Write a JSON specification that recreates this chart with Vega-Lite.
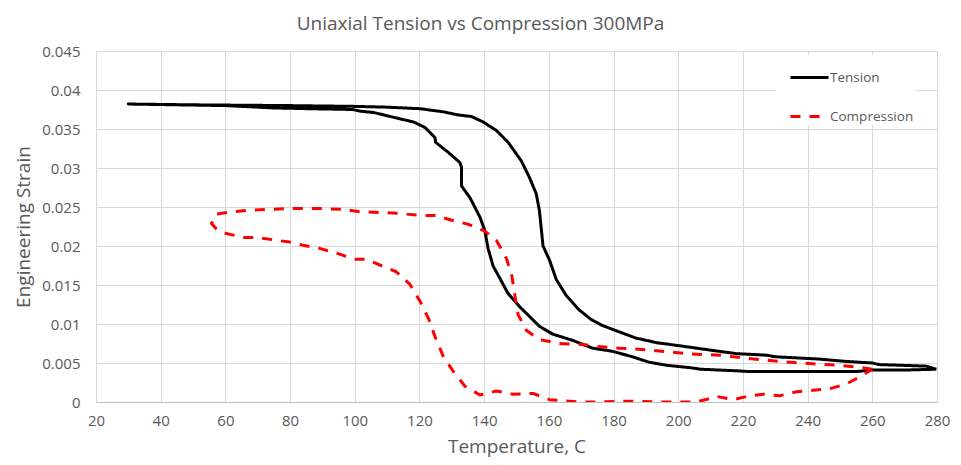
{
  "$schema": "https://vega.github.io/schema/vega-lite/v6.json",
  "description": "Uniaxial tension vs compression thermal cycles at 300MPa.",
  "autosize": "none",
  "width": 841,
  "height": 351,
  "padding": {"left": 96, "top": 51, "right": 24, "bottom": 63},
  "background": "white",
  "title": {
    "text": "Uniaxial Tension vs Compression 300MPa",
    "font": "Open Sans",
    "fontSize": 19,
    "fontWeight": "normal",
    "color": "#595959",
    "anchor": "middle",
    "baseline": "alphabetic",
    "offset": -5,
    "dx": -36
  },
  "data": {
    "values": [
      {"series": "Tension", "i": 1, "temp": 279.8, "strain": 0.0042},
      {"series": "Tension", "i": 2, "temp": 270, "strain": 0.0041},
      {"series": "Tension", "i": 3, "temp": 260, "strain": 0.0041},
      {"series": "Tension", "i": 4, "temp": 255, "strain": 0.0039},
      {"series": "Tension", "i": 5, "temp": 240, "strain": 0.0039},
      {"series": "Tension", "i": 6, "temp": 222, "strain": 0.0039},
      {"series": "Tension", "i": 7, "temp": 218, "strain": 0.004},
      {"series": "Tension", "i": 8, "temp": 207, "strain": 0.0042},
      {"series": "Tension", "i": 9, "temp": 203.7, "strain": 0.0044},
      {"series": "Tension", "i": 10, "temp": 196.5, "strain": 0.0047},
      {"series": "Tension", "i": 11, "temp": 191, "strain": 0.0051},
      {"series": "Tension", "i": 12, "temp": 185.8, "strain": 0.0058},
      {"series": "Tension", "i": 13, "temp": 179.7, "strain": 0.0065},
      {"series": "Tension", "i": 14, "temp": 173.5, "strain": 0.0069},
      {"series": "Tension", "i": 15, "temp": 167.4, "strain": 0.0079},
      {"series": "Tension", "i": 16, "temp": 161.2, "strain": 0.0087},
      {"series": "Tension", "i": 17, "temp": 157.1, "strain": 0.0097},
      {"series": "Tension", "i": 18, "temp": 151, "strain": 0.0122},
      {"series": "Tension", "i": 19, "temp": 147.4, "strain": 0.0139},
      {"series": "Tension", "i": 20, "temp": 144.8, "strain": 0.0159},
      {"series": "Tension", "i": 21, "temp": 142.8, "strain": 0.0174},
      {"series": "Tension", "i": 22, "temp": 141.2, "strain": 0.0197},
      {"series": "Tension", "i": 23, "temp": 140.2, "strain": 0.022},
      {"series": "Tension", "i": 24, "temp": 138.7, "strain": 0.0237},
      {"series": "Tension", "i": 25, "temp": 135.6, "strain": 0.0262},
      {"series": "Tension", "i": 26, "temp": 133, "strain": 0.0277},
      {"series": "Tension", "i": 27, "temp": 133, "strain": 0.0301},
      {"series": "Tension", "i": 28, "temp": 132.5, "strain": 0.0307},
      {"series": "Tension", "i": 29, "temp": 128.9, "strain": 0.032},
      {"series": "Tension", "i": 30, "temp": 125, "strain": 0.0333},
      {"series": "Tension", "i": 31, "temp": 124.8, "strain": 0.0339},
      {"series": "Tension", "i": 32, "temp": 121.7, "strain": 0.0352},
      {"series": "Tension", "i": 33, "temp": 118.2, "strain": 0.0359},
      {"series": "Tension", "i": 34, "temp": 114, "strain": 0.0363},
      {"series": "Tension", "i": 35, "temp": 110, "strain": 0.0367},
      {"series": "Tension", "i": 36, "temp": 106, "strain": 0.0371},
      {"series": "Tension", "i": 37, "temp": 101.5, "strain": 0.0373},
      {"series": "Tension", "i": 38, "temp": 99.4, "strain": 0.0375},
      {"series": "Tension", "i": 39, "temp": 86, "strain": 0.0376},
      {"series": "Tension", "i": 40, "temp": 75, "strain": 0.0377},
      {"series": "Tension", "i": 41, "temp": 60, "strain": 0.038},
      {"series": "Tension", "i": 42, "temp": 45, "strain": 0.0381},
      {"series": "Tension", "i": 43, "temp": 30, "strain": 0.0382},
      {"series": "Tension", "i": 44, "temp": 50, "strain": 0.0381},
      {"series": "Tension", "i": 45, "temp": 80, "strain": 0.038},
      {"series": "Tension", "i": 46, "temp": 100, "strain": 0.0379},
      {"series": "Tension", "i": 47, "temp": 110, "strain": 0.0378},
      {"series": "Tension", "i": 48, "temp": 120.2, "strain": 0.0376},
      {"series": "Tension", "i": 49, "temp": 127.4, "strain": 0.0372},
      {"series": "Tension", "i": 50, "temp": 132, "strain": 0.0368},
      {"series": "Tension", "i": 51, "temp": 136.1, "strain": 0.0366},
      {"series": "Tension", "i": 52, "temp": 139.7, "strain": 0.0359},
      {"series": "Tension", "i": 53, "temp": 143.8, "strain": 0.0348},
      {"series": "Tension", "i": 54, "temp": 147.4, "strain": 0.0333},
      {"series": "Tension", "i": 55, "temp": 151.5, "strain": 0.0309},
      {"series": "Tension", "i": 56, "temp": 154, "strain": 0.0288},
      {"series": "Tension", "i": 57, "temp": 156.1, "strain": 0.0267},
      {"series": "Tension", "i": 58, "temp": 157.1, "strain": 0.0245},
      {"series": "Tension", "i": 59, "temp": 158.2, "strain": 0.02},
      {"series": "Tension", "i": 60, "temp": 160.2, "strain": 0.0182},
      {"series": "Tension", "i": 61, "temp": 162.3, "strain": 0.0157},
      {"series": "Tension", "i": 62, "temp": 165.3, "strain": 0.0137},
      {"series": "Tension", "i": 63, "temp": 169.4, "strain": 0.0118},
      {"series": "Tension", "i": 64, "temp": 173, "strain": 0.0106},
      {"series": "Tension", "i": 65, "temp": 176.6, "strain": 0.0098},
      {"series": "Tension", "i": 66, "temp": 181.7, "strain": 0.009},
      {"series": "Tension", "i": 67, "temp": 186.9, "strain": 0.0082},
      {"series": "Tension", "i": 68, "temp": 193.4, "strain": 0.0076},
      {"series": "Tension", "i": 69, "temp": 200.6, "strain": 0.0072},
      {"series": "Tension", "i": 70, "temp": 210.8, "strain": 0.0066},
      {"series": "Tension", "i": 71, "temp": 218, "strain": 0.0062},
      {"series": "Tension", "i": 72, "temp": 227.3, "strain": 0.006},
      {"series": "Tension", "i": 73, "temp": 230, "strain": 0.0058},
      {"series": "Tension", "i": 74, "temp": 243.7, "strain": 0.0055},
      {"series": "Tension", "i": 75, "temp": 251.9, "strain": 0.0052},
      {"series": "Tension", "i": 76, "temp": 260.1, "strain": 0.005},
      {"series": "Tension", "i": 77, "temp": 262, "strain": 0.0048},
      {"series": "Tension", "i": 78, "temp": 276.6, "strain": 0.0046},
      {"series": "Tension", "i": 79, "temp": 279.8, "strain": 0.0042},
      {"series": "Compression", "i": 1, "temp": 260, "strain": 0.0042},
      {"series": "Compression", "i": 2, "temp": 257, "strain": 0.0044},
      {"series": "Compression", "i": 3, "temp": 250, "strain": 0.0047},
      {"series": "Compression", "i": 4, "temp": 241.6, "strain": 0.0049},
      {"series": "Compression", "i": 5, "temp": 231.4, "strain": 0.0052},
      {"series": "Compression", "i": 6, "temp": 221, "strain": 0.0056},
      {"series": "Compression", "i": 7, "temp": 213, "strain": 0.006},
      {"series": "Compression", "i": 8, "temp": 206.7, "strain": 0.0061},
      {"series": "Compression", "i": 9, "temp": 202.6, "strain": 0.0062},
      {"series": "Compression", "i": 10, "temp": 197.5, "strain": 0.0064},
      {"series": "Compression", "i": 11, "temp": 190, "strain": 0.0067},
      {"series": "Compression", "i": 12, "temp": 181.7, "strain": 0.0069},
      {"series": "Compression", "i": 13, "temp": 175.6, "strain": 0.0071},
      {"series": "Compression", "i": 14, "temp": 169.4, "strain": 0.0074},
      {"series": "Compression", "i": 15, "temp": 163.3, "strain": 0.0075},
      {"series": "Compression", "i": 16, "temp": 157.1, "strain": 0.008},
      {"series": "Compression", "i": 17, "temp": 153, "strain": 0.0092},
      {"series": "Compression", "i": 18, "temp": 150.5, "strain": 0.0112},
      {"series": "Compression", "i": 19, "temp": 149.4, "strain": 0.0139},
      {"series": "Compression", "i": 20, "temp": 148.6, "strain": 0.0161},
      {"series": "Compression", "i": 21, "temp": 146.9, "strain": 0.0184},
      {"series": "Compression", "i": 22, "temp": 143.8, "strain": 0.0207},
      {"series": "Compression", "i": 23, "temp": 140.2, "strain": 0.0219},
      {"series": "Compression", "i": 24, "temp": 135, "strain": 0.0228},
      {"series": "Compression", "i": 25, "temp": 130, "strain": 0.0233},
      {"series": "Compression", "i": 26, "temp": 125, "strain": 0.0239},
      {"series": "Compression", "i": 27, "temp": 121, "strain": 0.0239},
      {"series": "Compression", "i": 28, "temp": 113, "strain": 0.0242},
      {"series": "Compression", "i": 29, "temp": 108, "strain": 0.0243},
      {"series": "Compression", "i": 30, "temp": 101.5, "strain": 0.0244},
      {"series": "Compression", "i": 31, "temp": 96.3, "strain": 0.0247},
      {"series": "Compression", "i": 32, "temp": 90, "strain": 0.0248},
      {"series": "Compression", "i": 33, "temp": 80, "strain": 0.0248},
      {"series": "Compression", "i": 34, "temp": 73.7, "strain": 0.0247},
      {"series": "Compression", "i": 35, "temp": 67.5, "strain": 0.0246},
      {"series": "Compression", "i": 36, "temp": 62.4, "strain": 0.0244},
      {"series": "Compression", "i": 37, "temp": 57.2, "strain": 0.0241},
      {"series": "Compression", "i": 38, "temp": 55.7, "strain": 0.0229},
      {"series": "Compression", "i": 39, "temp": 57.2, "strain": 0.0222},
      {"series": "Compression", "i": 40, "temp": 60.3, "strain": 0.0216},
      {"series": "Compression", "i": 41, "temp": 65.5, "strain": 0.0211},
      {"series": "Compression", "i": 42, "temp": 69.6, "strain": 0.0211},
      {"series": "Compression", "i": 43, "temp": 74.7, "strain": 0.0208},
      {"series": "Compression", "i": 44, "temp": 79.9, "strain": 0.0205},
      {"series": "Compression", "i": 45, "temp": 84, "strain": 0.0201},
      {"series": "Compression", "i": 46, "temp": 89.1, "strain": 0.0197},
      {"series": "Compression", "i": 47, "temp": 94.3, "strain": 0.0191},
      {"series": "Compression", "i": 48, "temp": 99.9, "strain": 0.0183},
      {"series": "Compression", "i": 49, "temp": 103.5, "strain": 0.0183},
      {"series": "Compression", "i": 50, "temp": 108.7, "strain": 0.0174},
      {"series": "Compression", "i": 51, "temp": 112.8, "strain": 0.0167},
      {"series": "Compression", "i": 52, "temp": 117, "strain": 0.0151},
      {"series": "Compression", "i": 53, "temp": 120.2, "strain": 0.0129},
      {"series": "Compression", "i": 54, "temp": 122.8, "strain": 0.0107},
      {"series": "Compression", "i": 55, "temp": 124.8, "strain": 0.0084},
      {"series": "Compression", "i": 56, "temp": 127.4, "strain": 0.0058},
      {"series": "Compression", "i": 57, "temp": 130.5, "strain": 0.0039},
      {"series": "Compression", "i": 58, "temp": 134.1, "strain": 0.002},
      {"series": "Compression", "i": 59, "temp": 138.7, "strain": 0.0009},
      {"series": "Compression", "i": 60, "temp": 143.8, "strain": 0.0014},
      {"series": "Compression", "i": 61, "temp": 148.9, "strain": 0.001},
      {"series": "Compression", "i": 62, "temp": 155.1, "strain": 0.0011},
      {"series": "Compression", "i": 63, "temp": 160.2, "strain": 0.0003},
      {"series": "Compression", "i": 64, "temp": 169.4, "strain": 0},
      {"series": "Compression", "i": 65, "temp": 175, "strain": 0},
      {"series": "Compression", "i": 66, "temp": 185, "strain": 0.0001},
      {"series": "Compression", "i": 67, "temp": 195, "strain": 0},
      {"series": "Compression", "i": 68, "temp": 205.7, "strain": 0},
      {"series": "Compression", "i": 69, "temp": 212, "strain": 0.0007},
      {"series": "Compression", "i": 70, "temp": 217, "strain": 0.0003},
      {"series": "Compression", "i": 71, "temp": 221, "strain": 0.0007},
      {"series": "Compression", "i": 72, "temp": 226.3, "strain": 0.001},
      {"series": "Compression", "i": 73, "temp": 231.4, "strain": 0.0008},
      {"series": "Compression", "i": 74, "temp": 236.5, "strain": 0.0013},
      {"series": "Compression", "i": 75, "temp": 241.6, "strain": 0.0015},
      {"series": "Compression", "i": 76, "temp": 246.8, "strain": 0.0017},
      {"series": "Compression", "i": 77, "temp": 251.9, "strain": 0.0023},
      {"series": "Compression", "i": 78, "temp": 256, "strain": 0.0032},
      {"series": "Compression", "i": 79, "temp": 260, "strain": 0.0042}
    ]
  },
  "mark": {"type": "line", "strokeWidth": 3, "clip": true, "strokeJoin": "round"},
  "encoding": {
    "x": {
      "field": "temp",
      "type": "quantitative",
      "title": "Temperature, C",
      "scale": {"domain": [20, 280], "nice": false},
      "axis": {"values": [20, 40, 60, 80, 100, 120, 140, 160, 180, 200, 220, 240, 260, 280], "labelPadding": 11, "titlePadding": 9, "labelFlush": false}
    },
    "y": {
      "field": "strain",
      "type": "quantitative",
      "title": "Engineering Strain",
      "scale": {"domain": [0, 0.045], "nice": false},
      "axis": {"values": [0, 0.005, 0.01, 0.015, 0.02, 0.025, 0.03, 0.035, 0.04, 0.045], "format": "~g", "labelPadding": 16, "titlePadding": 8, "domain": false, "labelFlush": false}
    },
    "order": {"field": "i", "type": "quantitative"},
    "color": {
      "field": "series",
      "type": "nominal",
      "title": null,
      "scale": {"domain": ["Tension", "Compression"], "range": ["#000000", "#ff0000"]}
    },
    "strokeDash": {
      "field": "series",
      "type": "nominal",
      "title": null,
      "scale": {"domain": ["Tension", "Compression"], "range": [[1, 0], [10, 9]]}
    }
  },
  "config": {
    "font": "Open Sans",
    "view": {"stroke": null},
    "axis": {
      "grid": true,
      "gridColor": "#d9d9d9",
      "gridWidth": 1,
      "ticks": false,
      "domainColor": "#bfbfbf",
      "labelFont": "Open Sans",
      "labelFontSize": 15,
      "labelColor": "#595959",
      "titleFont": "Open Sans",
      "titleFontSize": 19,
      "titleFontWeight": "normal",
      "titleColor": "#595959"
    },
    "legend": {
      "orient": "none",
      "legendX": 679,
      "legendY": 4,
      "fillColor": "white",
      "padding": 2,
      "symbolType": "stroke",
      "symbolSize": 1444,
      "symbolStrokeWidth": 3,
      "symbolOffset": 12,
      "labelOffset": 0,
      "rowPadding": 12,
      "labelFont": "Open Sans",
      "labelFontSize": 13.5,
      "labelColor": "#595959"
    }
  }
}
